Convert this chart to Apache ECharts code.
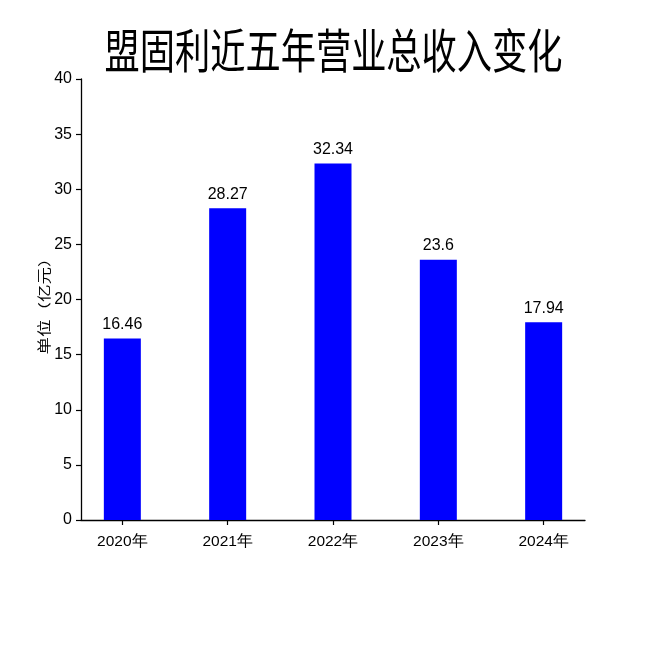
<!DOCTYPE html>
<html><head><meta charset="utf-8">
<script src="https://cdn.jsdelivr.net/npm/echarts@6/dist/echarts.min.js"></script>
<style>html,body{margin:0;padding:0;background:#fff}#c{width:650px;height:650px}</style>
</head><body><div id="c"></div>
<script>
const categories = ['2020年','2021年','2022年','2023年','2024年'];
const revenue = [16.46, 28.27, 32.34, 23.6, 17.94];
const yTicks = [0,5,10,15,20,25,30,35,40];

const idx = categories.map((_, i) => i);
const chart = echarts.init(document.getElementById('c'), null, {renderer:'canvas'});
const numFont = '"Liberation Sans", Arial, sans-serif';
const cjkFont = '"Noto Sans CJK SC", sans-serif';
chart.setOption({
  animation: false,
  backgroundColor: '#fff',
  graphic: [{
    type: 'text', x: 333.5, y: 50, scaleX: 0.75,
    style: {text: '盟固利近五年营业总收入变化', fontFamily: cjkFont, fontSize: 47, fill: '#000',
      align: 'center', verticalAlign: 'middle'}
  }, {
    type: 'text', x: 44, y: 302, rotation: Math.PI / 2, scaleY: 0.75,
    style: {text: '单位（亿元）', fontFamily: cjkFont, fontSize: 17.5, fill: '#000',
      align: 'center', verticalAlign: 'middle'}
  }],
  grid: {left: 81, right: 65, top: 79, bottom: 130, containLabel: false},
  xAxis: {
    type: 'value', min: -0.3925, max: 4.3925,
    splitLine: {show: false},
    axisLine: {show: true, onZero: false, lineStyle: {color: '#000', width: 1.3}},
    axisTick: {show: true, customValues: idx, length: 5, lineStyle: {color: '#000', width: 1.2}},
    axisLabel: {customValues: idx, formatter: v => categories[Math.round(v)], color: '#000', fontSize: 15.5, margin: 14,
      fontFamily: numFont}
  },
  yAxis: {
    type: 'value', min: 0, max: 40, interval: 5,
    splitLine: {show: false},
    axisLine: {show: true, onZero: false, lineStyle: {color: '#000', width: 1.3}},
    axisTick: {show: true, length: 5, lineStyle: {color: '#000', width: 1.2}},
    axisLabel: {color: '#000', fontSize: 16, margin: 9, fontFamily: numFont}
  },
  series: [{
    type: 'bar',
    data: revenue.map((v, i) => [i, v]),
    barWidth: 37,
    itemStyle: {color: '#0000ff'},
    label: {show: true, position: 'top', distance: 6, color: '#000', fontSize: 16, fontFamily: numFont,
      formatter: p => String(p.value[1])}
  }]
});
</script></body></html>
